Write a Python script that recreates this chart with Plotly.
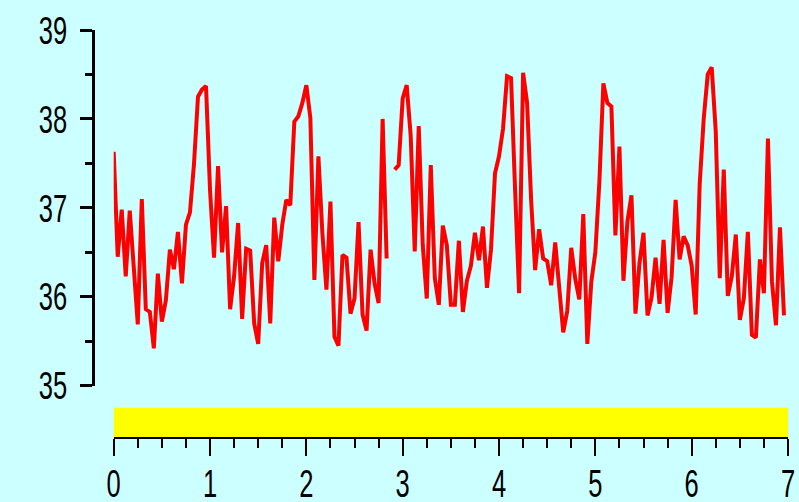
import plotly.graph_objects as go

# hourly readings over 7 days (x in days)
hours = list(range(168))
temps = [
    37.63, 36.45, 36.98, 36.23, 36.97, 36.36, 35.69, 37.10, 35.86, 35.83,
    35.42, 36.26, 35.72, 35.96, 36.53, 36.31, 36.73, 36.15, 36.81, 36.95,
    37.49, 38.25, 38.33, 38.37, 37.20, 36.44, 37.47, 36.50, 37.02, 35.86,
    36.23, 36.83, 35.75, 36.54, 36.52, 35.70, 35.47, 36.38, 36.58, 35.70,
    36.89, 36.40, 36.81, 37.09, 37.03, 37.97, 38.03, 38.18, 38.38, 38.01,
    36.19, 37.58, 36.71, 36.08, 37.07, 35.55, 35.45, 36.47, 36.44, 35.81,
    35.98, 36.84, 35.80, 35.62, 36.53, 36.15, 35.93, 38.00, 36.43, None,
    37.43, 37.48, 38.23, 38.38, 37.81, 36.51, 37.92, 36.58, 35.98, 37.48,
    36.21, 35.91, 36.80, 36.58, 35.91, 35.91, 36.63, 35.83, 36.18, 36.35,
    36.72, 36.41, 36.79, 36.10, 36.53, 37.39, 37.58, 37.89, 38.48, 38.46,
    37.21, 36.04, 38.52, 38.18, 37.09, 36.30, 36.76, 36.43, 36.40, 36.13,
    36.61, 36.11, 35.60, 35.84, 36.55, 36.20, 35.97, 36.93, 35.47, 36.17,
    36.50, 37.29, 38.40, 38.18, 38.14, 36.69, 37.69, 36.18, 36.85, 37.14,
    35.81, 36.38, 36.72, 35.79, 35.99, 36.44, 35.92, 36.64, 35.82, 36.22,
    37.09, 36.42, 36.68, 36.58, 36.35, 35.80, 37.27, 38.00, 38.50, 38.58,
    37.86, 36.21, 37.43, 36.01, 36.23, 36.70, 35.74, 35.98, 36.73, 35.57,
    35.54, 36.42, 36.04, 37.78, 36.17, 35.68, 36.78, 35.79,
]
days = [h / 24 for h in hours]
x_ticks = [0, 1, 2, 3, 4, 5, 6, 7]
y_ticks = [35, 36, 37, 38, 39]
band_start, band_end = 0, 7

W, H = 799, 502
BG = "#ccffff"
FONT = "Liberation Sans, Arial, sans-serif"
FS = 39

fig = go.Figure()
fig.add_trace(go.Scatter(
    x=days, y=temps, mode="lines",
    line=dict(color="#ff0000", width=4),
    connectgaps=False, hoverinfo="skip", showlegend=False,
))

fig.add_shape(type="rect", xref="x", yref="paper",
              x0=band_start, x1=band_end,
              y0=(H - 437) / H, y1=(H - 407.7) / H,
              fillcolor="#ffff00", line=dict(width=0), layer="below")

fig.update_layout(
    width=W, height=H,
    margin=dict(l=0, r=0, t=0, b=0, autoexpand=False),
    paper_bgcolor=BG, plot_bgcolor=BG,
    font=dict(family=FONT, color="black", size=FS),
    xaxis=dict(
        domain=[113.7 / W, 788 / W], range=[0, 7],
        anchor="free", position=(H - 438) / H, automargin=False,
        tickvals=x_ticks, ticktext=[str(v) for v in x_ticks],
        ticks="outside", ticklen=17, tickwidth=2, tickcolor="black",
        showline=True, linewidth=2, linecolor="black",
        showgrid=False, zeroline=False,
        minor=dict(dtick=0.25, ticks="outside", ticklen=9, tickwidth=2, tickcolor="black", showgrid=False),
        ticklabelstandoff=-6,
        tickfont=dict(size=FS, family=FONT),
    ),
    yaxis=dict(
        domain=[(H - 385.7) / H, (H - 30) / H], range=[35, 39],
        anchor="free", position=93 / W, automargin=False,
        tickvals=y_ticks, ticktext=[str(v) for v in y_ticks],
        ticks="outside", ticklen=12, tickwidth=3, tickcolor="black",
        showline=True, linewidth=3, linecolor="black",
        showgrid=False, zeroline=False,
        minor=dict(dtick=0.5, ticks="outside", ticklen=7, tickwidth=3, tickcolor="black", showgrid=False),
        ticklabelstandoff=5,
        tickfont=dict(size=FS, family=FONT),
    ),
)

# narrow, tall tick digits as in the reference
post = """
var gd = document.getElementsByClassName('plotly-graph-div')[0];
function squeeze(){
  gd.querySelectorAll('.xtick text, .ytick text').forEach(function(t){
    var n = t.textContent.length;
    t.setAttribute('textLength', String(14.2 * n));
    t.setAttribute('lengthAdjust', 'spacingAndGlyphs');
  });
}
squeeze();
if (gd.on) { gd.on('plotly_afterplot', squeeze); }
"""

fig.write_html("out.html", post_script=post)
